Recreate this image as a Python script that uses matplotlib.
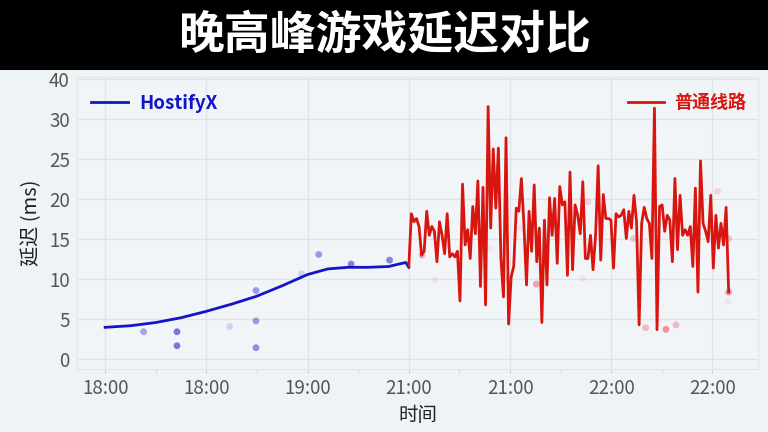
import numpy as np
import matplotlib
matplotlib.use("Agg")
import matplotlib.pyplot as plt
from matplotlib.patches import Rectangle
from matplotlib.lines import Line2D

plt.rcParams['font.family'] = ['Noto Sans CJK SC', 'DejaVu Sans']

# tick positions and (odd) labels as shown on the chart
x_ticks = [0, 1, 2, 3, 4, 5, 6]
x_labels = ['18:00', '18:00', '19:00', '21:00', '21:00', '22:00', '22:00']
y_ticks = [0, 5, 10, 15, 20, 25, 30, 35]
y_labels = ['0', '5', '10', '15', '20', '25', '30', '40']

# HostifyX smooth trend
blue_x = [0, 0.25, 0.5, 0.75, 1.0, 1.25, 1.5, 1.75, 2.0, 2.2, 2.4, 2.6, 2.8, 2.9, 2.97, 3.0]
blue_y = [4.0, 4.2, 4.6, 5.2, 6.0, 6.9, 7.9, 9.2, 10.6, 11.3, 11.5, 11.5, 11.6, 11.9, 12.1, 11.5]

# HostifyX raw samples
blue_pts_x = [0.38, 0.71, 0.71, 1.23, 1.49, 1.49, 1.49, 1.94, 2.11, 2.43, 2.81]
blue_pts_y = [3.45, 3.45, 1.7, 4.1, 8.6, 4.8, 1.45, 10.7, 13.1, 11.9, 12.4]
blue_pts_a = [0.35, 0.55, 0.55, 0.15, 0.4, 0.4, 0.45, 0.15, 0.4, 0.5, 0.5]

# 普通线路 latency trace (evenly spaced samples from 21:00 onward)
red_start, red_end = 3.0, 6.16
red_y = [
    11.6, 18.2, 17.2, 17.6, 16.6, 13.0, 13.5, 18.5, 15.5, 16.6, 16.0, 12.2, 17.2, 15.5, 13.2,
    18.2, 12.8, 13.2, 12.8, 13.5, 7.3, 21.9, 14.3, 16.2, 12.6, 19.1, 15.7, 22.3, 9.1,
    21.5, 6.8, 31.6, 16.4, 26.3, 18.9, 26.4, 12.6, 7.8, 27.7, 4.4, 10.3, 11.6, 18.9, 18.5,
    22.6, 16.8, 9.3, 18.5, 13.5, 21.8, 12.2, 16.4, 4.6, 17.4, 9.3, 20.2, 15.5,
    20.1, 12.0, 21.6, 19.3, 19.7, 10.5, 23.4, 11.2, 19.3, 18.0, 15.7, 22.2, 12.6, 12.6, 15.5,
    11.2, 15.5, 24.2, 12.4, 20.6, 17.6, 17.6, 17.4, 11.4, 18.2, 17.8, 18.0, 18.7, 15.1, 18.5,
    16.4, 20.5, 17.2, 4.3,
    17.0, 19.0, 17.6, 17.0, 12.6, 31.4, 3.7, 19.1, 19.3, 16.0, 18.0, 17.4, 12.2, 22.6, 13.7,
    20.5, 15.5, 16.2, 15.5, 16.6, 11.6, 21.4, 8.4, 24.8, 17.0, 16.0, 14.7, 20.5, 11.4, 18.0,
    13.9, 17.0, 14.3, 19.0, 8.4,
]

# 普通线路 raw samples
red_pts_x = [3.13, 3.26, 3.8, 3.98, 4.11, 4.26, 4.72, 4.77, 5.22, 5.34, 5.54, 5.64, 6.05, 6.15, 6.16, 6.16]
red_pts_y = [13.0, 9.9, 13.9, 10.1, 16.4, 9.4, 10.1, 19.7, 15.1, 3.95, 3.75, 4.3, 21.0, 7.2, 15.1, 8.4]
red_pts_a = [0.35, 0.1, 0.1, 0.15, 0.1, 0.5, 0.1, 0.2, 0.25, 0.35, 0.6, 0.35, 0.2, 0.1, 0.3, 0.55]

blue = '#1414c8'
red = '#d8150f'
bg = '#eef3f6'

fig = plt.figure(figsize=(7.68, 4.32), dpi=100, facecolor=bg)
fig.patches.append(Rectangle((0, 0.838), 1, 0.162, transform=fig.transFigure,
                             facecolor='black', zorder=0))
fig.text(0.5, 0.917, '晚高峰游戏延迟对比', color='white', fontsize=33,
         fontweight='black', ha='center', va='center')

ax = fig.add_axes([0.100, 0.146, 0.887, 0.676])
ax.set_facecolor('#f1f5f8')

red_x = np.linspace(red_start, red_end, len(red_y))

ax.scatter(blue_pts_x, blue_pts_y, s=24, color=blue, alpha=blue_pts_a, edgecolors='none', zorder=2)
ax.scatter(red_pts_x, red_pts_y, s=24, color='#e8506a', alpha=red_pts_a, edgecolors='none', zorder=2)
ax.plot(blue_x, blue_y, color=blue, lw=2.0, zorder=3)
ax.plot(red_x, red_y, color=red, lw=2.0, zorder=3)

ax.set_xlim(-0.28, 6.45)
ax.set_ylim(-1.2, 35.3)
ax.set_xticks(x_ticks)
ax.set_xticklabels(x_labels)
ax.set_xticks([t + 0.5 for t in x_ticks[:-1]], minor=True)
ax.set_yticks(y_ticks)
ax.set_yticklabels(y_labels)

ax.tick_params(axis='both', labelsize=13.5, labelcolor='#555555', color='#c8ced3', length=3)
ax.tick_params(axis='x', which='minor', length=3, color='#c8ced3')
ax.tick_params(axis='y', length=0, pad=5)
ax.grid(True, color='#dde3e8', lw=0.9)
ax.set_axisbelow(True)
for s in ax.spines.values():
    s.set_color('#e1e6ea')
    s.set_linewidth(0.9)

ax.set_xlabel('时间', fontsize=14, color='#222222', labelpad=4)
ax.set_ylabel('延迟 (ms)', fontsize=14.5, color='#222222', labelpad=5)

h1 = Line2D([], [], color=blue, lw=2.0)
h2 = Line2D([], [], color=red, lw=2.0)
leg1 = ax.legend([h1], ['HostifyX'], loc='upper left', frameon=False,
                 prop={'weight': 'bold', 'size': 13.5}, labelcolor=blue,
                 handlelength=2.0, handletextpad=0.55, borderaxespad=0.5,
                 bbox_to_anchor=(-0.004, 1.0))
ax.add_artist(leg1)
ax.legend([h2], ['普通线路'], loc='upper right', frameon=False,
          prop={'weight': 'bold', 'size': 13}, labelcolor=red,
          handlelength=2.0, handletextpad=0.55, borderaxespad=0.5,
          bbox_to_anchor=(1.006, 1.0))

fig.savefig('out.png', dpi=100, facecolor=bg)
